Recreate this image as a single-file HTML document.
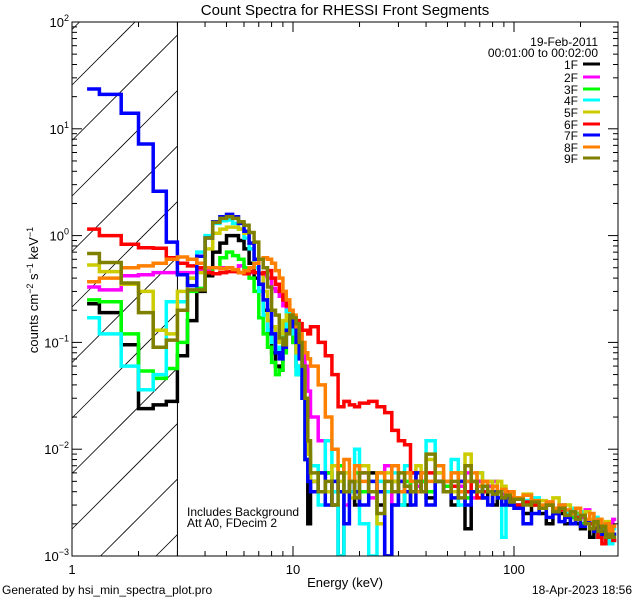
<!DOCTYPE html>
<html><head><meta charset="utf-8"><style>
html,body{margin:0;background:#fff;width:640px;height:600px;overflow:hidden;}
svg{display:block;font-family:"Liberation Sans",sans-serif;}
</style></head><body>
<svg id="chart" width="640" height="600" viewBox="0 0 640 600" overflow="hidden">
<g id="hatch"></g>
<g id="series"></g>
<g id="axes"></g>
<text x="345" y="15" font-size="15" text-anchor="middle">Count Spectra for RHESSI Front Segments</text>
<text x="345" y="587" font-size="13" text-anchor="middle">Energy (keV)</text>
<text transform="translate(38,290) rotate(-90)" font-size="13" text-anchor="middle">counts cm<tspan dy="-5" font-size="9">−2</tspan><tspan dy="5"> s</tspan><tspan dy="-5" font-size="9">−1</tspan><tspan dy="5"> keV</tspan><tspan dy="-5" font-size="9">−1</tspan></text>
<text x="187" y="516" font-size="12">Includes Background</text>
<text x="187" y="527" font-size="12">Att A0, FDecim 2</text>
<text x="598" y="46" font-size="12" text-anchor="end">19-Feb-2011</text>
<text x="598" y="57" font-size="12" text-anchor="end">00:01:00 to 00:02:00</text>
<g id="legend"></g>
<text x="2" y="594" font-size="12">Generated by hsi_min_spectra_plot.pro</text>
<text x="632" y="594" font-size="12" text-anchor="end">18-Apr-2023 18:56</text>
</svg>
<script>
const edges=[1.17,1.33,1.67,2,2.33,2.67,3,3.33,3.67,4,4.33,4.67,5,5.33,5.67,6,6.33,6.67,7,7.33,7.67,8,8.33,8.67,9,9.33,9.67,10,10.33,10.67,11,11.33,11.67,12,13,14,15,16,17,18,19,20,22,24,26,28,30,32,34,36,38,40,44,48,52,56,60,64,68,72,76,80,84,88,92,96,100,110,120,130,140,150,160,170,180,190,200,210,220,230,240,250,260,270,280,290];
const seriesNames=["1F","2F","3F","4F","5F","6F","7F","8F","9F"];
const seriesColors=["#000000","#ff00ff","#00ff00","#00ffff","#cccc00","#ff0000","#0000ff","#ff8000","#808000"];
const s1F=[0.23,0.19,0.095,0.024,0.026,0.028,0.075,0.16,0.3,0.42,0.7,0.85,1.0,1.0,0.9,0.75,0.55,0.4,0.3,0.2,0.12,0.08,0.06,0.055,0.08,0.15,0.14,0.1,0.06,0.05,0.03,0.008,0.002,0.005,0.004,0.006,0.003,0.0009,0.004,0.005,0.003,0.004,0.006,0.003,0.0008,0.005,0.004,0.003,0.006,0.004,0.005,0.0035,0.005,0.004,0.003,0.006,0.0018,0.004,0.005,0.0035,0.004,0.003,0.004,0.0035,0.003,0.0035,0.003,0.0025,0.003,0.0025,0.002,0.0028,0.0025,0.002,0.0023,0.002,0.0018,0.002,0.0015,0.0018,0.0015,0.0017,0.0013,0.0015,0.0014];
const s2F=[0.33,0.31,0.42,0.43,0.45,0.45,0.45,0.45,0.47,0.48,0.5,0.5,0.5,0.48,0.52,0.5,0.45,0.45,0.45,0.42,0.4,0.32,0.3,0.27,0.22,0.2,0.15,0.12,0.12,0.1,0.08,0.06,0.035,0.02,0.012,0.006,0.004,0.006,0.003,0.005,0.004,0.006,0.0035,0.004,0.007,0.003,0.005,0.004,0.006,0.0045,0.005,0.004,0.006,0.005,0.004,0.0045,0.006,0.0035,0.005,0.004,0.0045,0.005,0.004,0.0038,0.004,0.0035,0.003,0.0033,0.003,0.0028,0.0032,0.0027,0.003,0.0025,0.0028,0.0025,0.0023,0.0027,0.002,0.0022,0.002,0.0018,0.002,0.0017,0.0022];
const s3F=[0.25,0.24,0.12,0.054,0.046,0.057,0.1,0.3,0.32,0.45,0.5,0.62,0.7,0.65,0.6,0.5,0.4,0.3,0.17,0.12,0.09,0.065,0.05,0.055,0.08,0.13,0.14,0.1,0.05,0.05,0.03,0.008,0.005,0.007,0.004,0.006,0.005,0.007,0.004,0.005,0.006,0.004,0.005,0.006,0.004,0.005,0.003,0.005,0.004,0.006,0.005,0.004,0.005,0.0045,0.004,0.005,0.0035,0.005,0.004,0.005,0.004,0.0045,0.004,0.0035,0.004,0.0035,0.003,0.0033,0.003,0.0028,0.003,0.0025,0.0028,0.0025,0.0023,0.0025,0.002,0.0022,0.0018,0.002,0.0016,0.0018,0.0015,0.0017,0.0016];
const s4F=[0.17,0.12,0.06,0.036,0.05,0.24,0.24,0.4,0.7,1.0,1.3,1.38,1.4,1.3,1.15,0.95,0.75,0.5,0.3,0.18,0.13,0.1,0.085,0.09,0.12,0.2,0.15,0.12,0.05,0.06,0.03,0.01,0.01,0.007,0.003,0.012,0.004,0.0009,0.006,0.004,0.01,0.002,0.0009,0.005,0.004,0.006,0.003,0.007,0.005,0.004,0.006,0.012,0.005,0.004,0.008,0.003,0.005,0.004,0.006,0.0045,0.005,0.004,0.0035,0.0015,0.004,0.0035,0.003,0.0033,0.0035,0.0028,0.003,0.0027,0.003,0.0025,0.0028,0.0024,0.0026,0.0022,0.002,0.0023,0.0018,0.002,0.0016,0.0013,0.0018];
const s5F=[0.53,0.46,0.35,0.3,0.13,0.12,0.3,0.4,0.45,0.75,1.05,1.15,1.2,1.2,1.15,1.05,0.85,0.6,0.45,0.3,0.16,0.14,0.1,0.12,0.16,0.18,0.17,0.15,0.08,0.09,0.05,0.015,0.009,0.005,0.006,0.004,0.007,0.005,0.006,0.0035,0.005,0.007,0.004,0.002,0.006,0.005,0.004,0.006,0.005,0.007,0.004,0.008,0.006,0.005,0.004,0.006,0.009,0.005,0.006,0.0045,0.005,0.004,0.005,0.0045,0.004,0.004,0.0035,0.0038,0.003,0.0033,0.003,0.0035,0.0028,0.003,0.0026,0.0028,0.0024,0.0026,0.0022,0.002,0.0022,0.0019,0.0021,0.0017,0.0019];
const s6F=[1.15,1.0,0.83,0.77,0.76,0.62,0.55,0.52,0.5,0.45,0.44,0.45,0.46,0.46,0.45,0.44,0.46,0.45,0.44,0.45,0.47,0.4,0.35,0.3,0.25,0.22,0.2,0.17,0.16,0.15,0.13,0.13,0.12,0.14,0.1,0.075,0.05,0.025,0.028,0.026,0.025,0.027,0.028,0.025,0.022,0.015,0.012,0.011,0.006,0.005,0.004,0.006,0.005,0.004,0.0045,0.005,0.004,0.005,0.0035,0.004,0.004,0.0045,0.004,0.0035,0.004,0.0035,0.003,0.0032,0.003,0.0028,0.003,0.0025,0.0027,0.0024,0.0026,0.0023,0.0024,0.0021,0.002,0.0018,0.0015,0.0013,0.0016,0.0015,0.0014];
const s7F=[23.6,21,14,7.2,2.6,0.87,0.43,0.34,0.64,0.95,1.35,1.5,1.58,1.5,1.3,1.1,0.85,0.6,0.35,0.25,0.2,0.12,0.08,0.07,0.09,0.13,0.16,0.14,0.1,0.07,0.03,0.008,0.005,0.004,0.006,0.003,0.005,0.004,0.002,0.005,0.004,0.003,0.005,0.004,0.0009,0.003,0.005,0.004,0.003,0.006,0.004,0.003,0.005,0.004,0.0035,0.005,0.003,0.004,0.0045,0.0035,0.003,0.004,0.0035,0.003,0.0035,0.003,0.0028,0.002,0.0025,0.0028,0.0023,0.0025,0.0021,0.0023,0.002,0.0022,0.0019,0.0021,0.0018,0.0017,0.0019,0.0016,0.0017,0.0015,0.0016];
const s8F=[0.37,0.4,0.5,0.52,0.55,0.6,0.63,0.6,0.55,0.5,0.5,0.49,0.5,0.48,0.45,0.47,0.5,0.55,0.6,0.62,0.6,0.55,0.47,0.4,0.3,0.25,0.2,0.18,0.14,0.12,0.1,0.08,0.07,0.06,0.04,0.02,0.01,0.006,0.008,0.005,0.007,0.005,0.004,0.006,0.005,0.007,0.004,0.006,0.005,0.004,0.006,0.005,0.007,0.005,0.006,0.004,0.005,0.006,0.0045,0.005,0.004,0.0045,0.004,0.0042,0.0038,0.004,0.0035,0.0037,0.0033,0.003,0.0032,0.0028,0.003,0.0027,0.0025,0.0028,0.0024,0.0022,0.0025,0.002,0.0022,0.0019,0.002,0.0017,0.0019];
const s9F=[0.68,0.56,0.36,0.19,0.09,0.105,0.2,0.31,0.31,0.95,1.33,1.45,1.5,1.45,1.35,1.25,1.07,0.87,0.6,0.5,0.33,0.2,0.18,0.11,0.095,0.12,0.18,0.17,0.15,0.1,0.06,0.03,0.012,0.006,0.004,0.005,0.003,0.006,0.004,0.005,0.0035,0.006,0.004,0.0025,0.005,0.004,0.006,0.0045,0.004,0.005,0.004,0.009,0.005,0.004,0.005,0.0035,0.007,0.005,0.004,0.0045,0.004,0.0038,0.004,0.0035,0.0037,0.0032,0.0034,0.003,0.0032,0.0028,0.003,0.0026,0.0028,0.0024,0.0026,0.0022,0.0024,0.002,0.0018,0.0021,0.0017,0.0019,0.0015,0.0016,0.0015];
const seriesValues=[s1F,s2F,s3F,s4F,s5F,s6F,s7F,s8F,s9F];
const xTicks=[1,10,100];
const xTickLabels=["1","10","100"];
const yTickExps=[-3,-2,-1,0,1,2];

const X0=72,X1=618,Y0=22,Y1=556,DEC_X=221,DEC_Y=106.8;
const NS="http://www.w3.org/2000/svg";
function xs(e){return X0+Math.log10(e)*DEC_X;}
function ys(v){const y=Y0+(2-Math.log10(v))*DEC_Y;return Math.max(Y0,Math.min(Y1,y));}
function mk(tag,attrs,parent){const el=document.createElementNS(NS,tag);for(const k in attrs)el.setAttribute(k,attrs[k]);parent.appendChild(el);return el;}

const hatch=document.getElementById('hatch');
const defs=mk('defs',{},document.getElementById('chart'));
const X3=xs(3);
for(let k=-2;k<14;k++){const c=85+k*55.5;
 const xa=Math.max(X0,X0+c-Y1), xb=Math.min(X3,X0+c-Y0);
 if(xa>=xb)continue;
 const ln=mk('line',{x1:xa,y1:c-(xa-X0),x2:xb,y2:c-(xb-X0),stroke:'#000','stroke-width':0.8},hatch);
 
 }
const vl=mk('line',{x1:X3,y1:Y0,x2:X3,y2:Y1,stroke:'#000','stroke-width':1},hatch);



const sg=document.getElementById('series');
const pcp=mk('clipPath',{id:'pclip'},defs);
mk('rect',{x:X0,y:Y0,width:X1-X0,height:Y1-Y0},pcp);
sg.setAttribute('clip-path','url(#pclip)');
seriesValues.forEach((vals,si)=>{
 let d='';
 vals.forEach((v,i)=>{const xa=xs(edges[i]),xb=xs(edges[i+1]),y=ys(v);
  d+=(i===0?'M':'L')+xa.toFixed(1)+','+y.toFixed(1)+'L'+xb.toFixed(1)+','+y.toFixed(1);});
 const p=mk('path',{d:d,fill:'none',stroke:seriesColors[si],'stroke-width':3.5,'stroke-linejoin':'miter'},sg);
 
 
});

const ax=document.getElementById('axes');
const fr=mk('rect',{x:X0,y:Y0,width:X1-X0,height:Y1-Y0,fill:'none',stroke:'#000','stroke-width':1},ax);


for(let dec=0;dec<3;dec++){for(let m=1;m<10;m++){const e=m*Math.pow(10,dec);const x=xs(e);if(x>X1)continue;
 const L=m===1?10:5;
 const t1=mk('line',{x1:x,y1:Y1,x2:x,y2:Y1-L,stroke:'#000'},ax);
 
 
 const t2=mk('line',{x1:x,y1:Y0,x2:x,y2:Y0+L,stroke:'#000'},ax);
 
 }}
xTicks.forEach((e,i)=>{const t=mk('text',{x:xs(e),y:Y1+18,'font-size':13,'text-anchor':'middle'},ax);t.textContent=xTickLabels[i];
 
 });
for(let ex=-3;ex<2;ex++){for(let m=1;m<10;m++){const v=m*Math.pow(10,ex);const y=ys(v);const L=m===1?10:5;
 const t1=mk('line',{x1:X0,y1:y,x2:X0+L,y2:y,stroke:'#000'},ax);
 
 
 const t2=mk('line',{x1:X1,y1:y,x2:X1-L,y2:y,stroke:'#000'},ax);
 
 }}
yTickExps.forEach(ex=>{const y=ys(Math.pow(10,ex));
 const t=mk('text',{x:X0-3,y:y+5,'font-size':13,'text-anchor':'end'},ax);
 
 
 const a=document.createElementNS(NS,'tspan');a.textContent='10';t.appendChild(a);
 const b=document.createElementNS(NS,'tspan');b.setAttribute('dy','-6');b.setAttribute('font-size','9');b.textContent=ex<0?'−'+(-ex):String(ex);t.appendChild(b);});

const lg=document.getElementById('legend');
const legY=[64,77,89,100,112,124,135,147,158];
seriesNames.forEach((n,i)=>{const g=mk('g',{},lg);
 
 
 const t=mk('text',{x:578,y:legY[i]+5,'font-size':12,'text-anchor':'end'},g);t.textContent=n;
 mk('line',{x1:583,y1:legY[i],x2:600,y2:legY[i],stroke:seriesColors[i],'stroke-width':3},g);});
</script>
</body></html>
